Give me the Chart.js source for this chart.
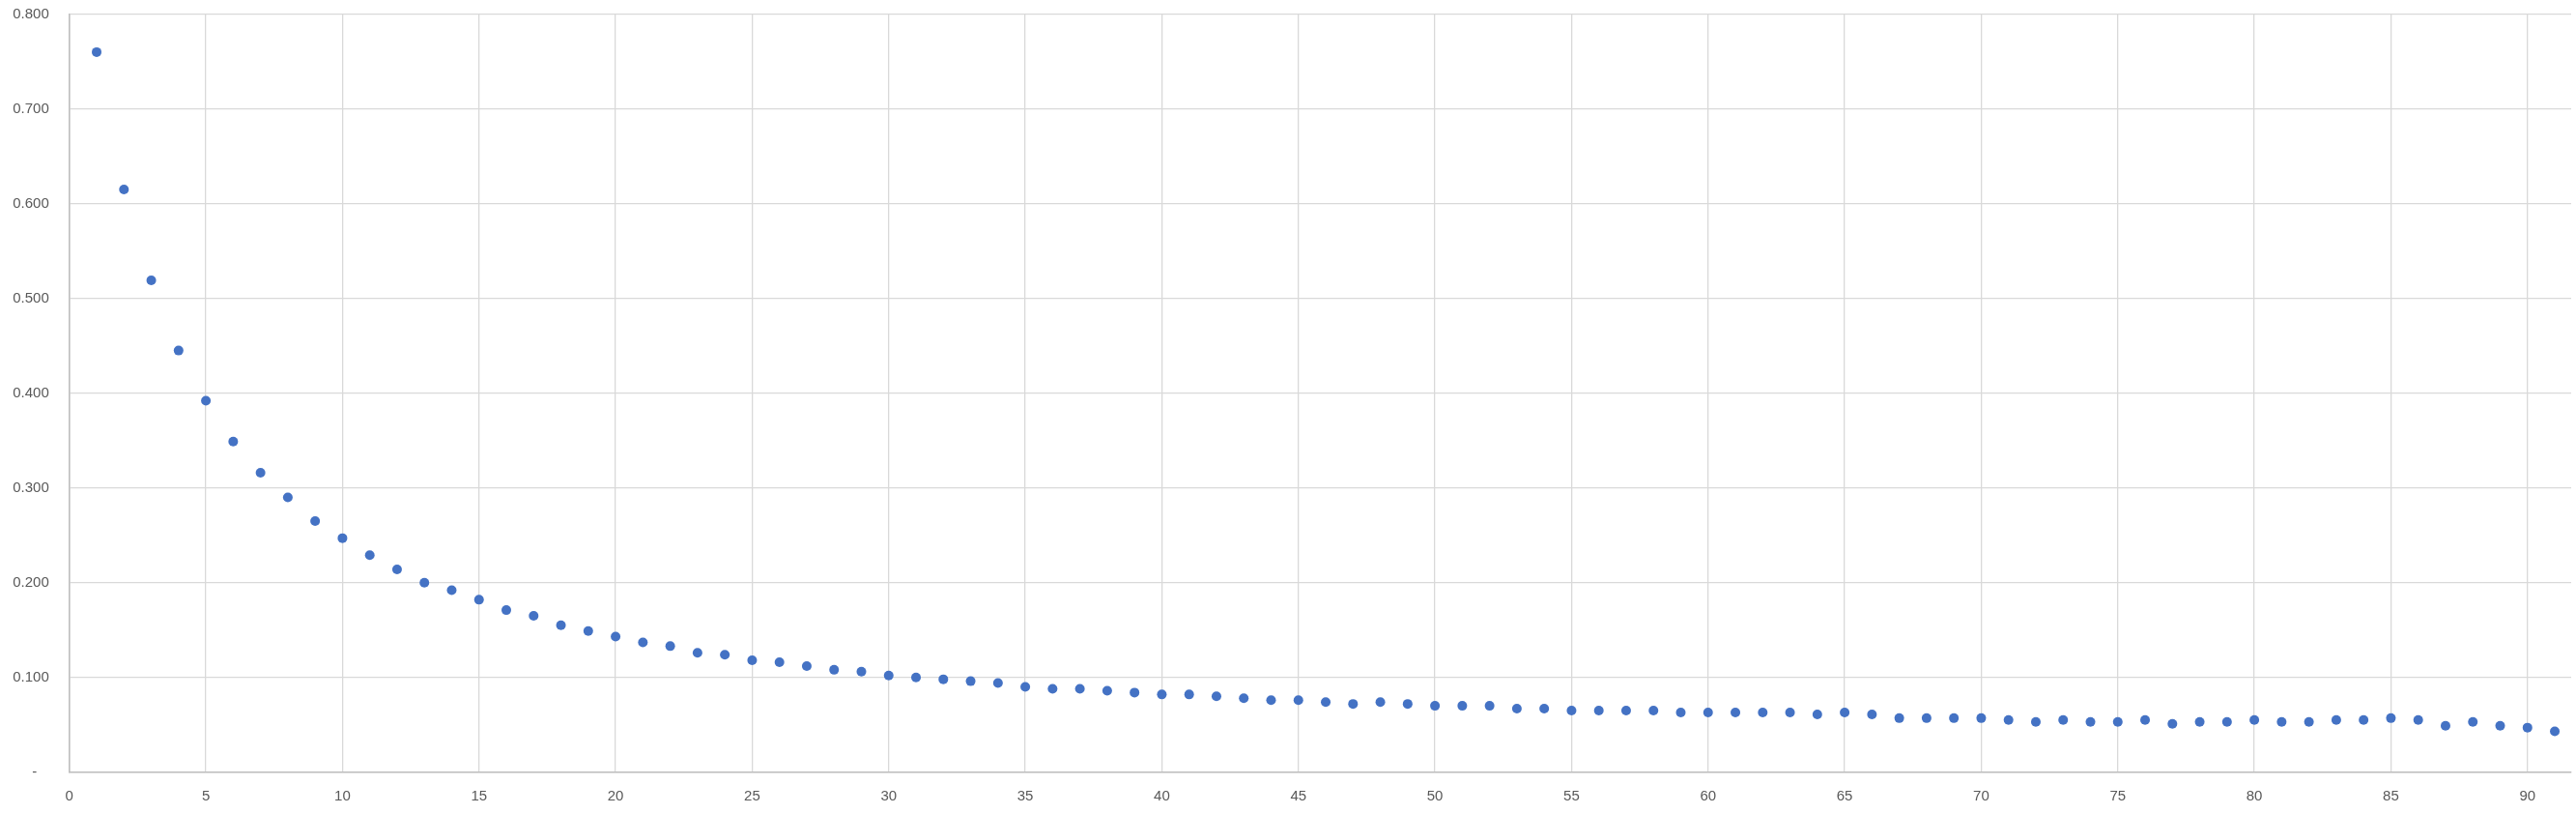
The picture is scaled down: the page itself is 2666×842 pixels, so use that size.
<!DOCTYPE html>
<html>
<head>
<meta charset="utf-8">
<script src="https://cdn.jsdelivr.net/npm/chart.js@4"></script>
<style>
  html, body { margin: 0; padding: 0; background: #ffffff; overflow: hidden; }
  #wrap { position: relative; width: 2666px; height: 842px; }
</style>
</head>
<body>
<div id="wrap"><canvas id="c"></canvas></div>
<script>
const xValues = [1,2,3,4,5,6,7,8,9,10,11,12,13,14,15,16,17,18,19,20,
  21,22,23,24,25,26,27,28,29,30,31,32,33,34,35,36,37,38,39,40,
  41,42,43,44,45,46,47,48,49,50,51,52,53,54,55,56,57,58,59,60,
  61,62,63,64,65,66,67,68,69,70,71,72,73,74,75,76,77,78,79,80,
  81,82,83,84,85,86,87,88,89,90,91];
const yValues = [0.760,0.615,0.519,0.445,0.392,0.349,0.316,0.290,0.265,0.247,
  0.229,0.214,0.200,0.192,0.182,0.171,0.165,0.155,0.149,0.143,
  0.137,0.133,0.126,0.124,0.118,0.116,0.112,0.108,0.106,0.102,
  0.100,0.098,0.096,0.094,0.090,0.088,0.088,0.086,0.084,0.082,
  0.082,0.080,0.078,0.076,0.076,0.074,0.072,0.074,0.072,0.070,
  0.070,0.070,0.067,0.067,0.065,0.065,0.065,0.065,0.063,0.063,
  0.063,0.063,0.063,0.061,0.063,0.061,0.057,0.057,0.057,0.057,
  0.055,0.053,0.055,0.053,0.053,0.055,0.051,0.053,0.053,0.055,
  0.053,0.053,0.055,0.055,0.057,0.055,0.049,0.053,0.049,0.047,
  0.043];
const xTickStep = 5;
const yTickStep = 0.1;

const points = xValues.map((x, i) => ({ x: x, y: yValues[i] }));

const labelFont = { family: "'Liberation Sans', Arial, sans-serif", size: 15 };
const labelColor = '#595959';

new Chart(document.getElementById('c'), {
  type: 'scatter',
  data: {
    datasets: [{
      data: points,
      backgroundColor: '#4472C4',
      borderColor: '#4472C4',
      borderWidth: 0,
      pointRadius: 5,
      pointHoverRadius: 5
    }]
  },
  options: {
    responsive: true,
    maintainAspectRatio: false,
    animation: false,
    devicePixelRatio: 1,
    layout: { padding: { top: 14.7, right: 0, left: 0, bottom: 0 } },
    plugins: { legend: { display: false }, tooltip: { enabled: false } },
    scales: {
      x: {
        type: 'linear',
        min: 0,
        max: 91.6,
        ticks: {
          stepSize: xTickStep,
          includeBounds: false,
          color: labelColor,
          font: labelFont,
          padding: 16,
          maxRotation: 0,
          autoSkip: false
        },
        grid: { color: '#d9d9d9', lineWidth: 1.3, drawTicks: false },
        border: { color: '#bfbfbf', width: 1.6 },
        afterFit: (s) => { s.height = 43.3; s.paddingLeft = 0; s.paddingRight = 0; }
      },
      y: {
        type: 'linear',
        min: 0,
        max: 0.8,
        ticks: {
          stepSize: yTickStep,
          color: labelColor,
          font: labelFont,
          padding: 21,
          callback: (v) => (Math.abs(v) < 1e-9 ? '-   ' : Number(v).toFixed(3))
        },
        grid: { color: '#d9d9d9', lineWidth: 1.3, drawTicks: false },
        border: { color: '#bfbfbf', width: 1.6 },
        afterFit: (s) => { s.width = 71.75; s.paddingTop = 0; s.paddingBottom = 0; }
      }
    }
  }
});
</script>
</body>
</html>
